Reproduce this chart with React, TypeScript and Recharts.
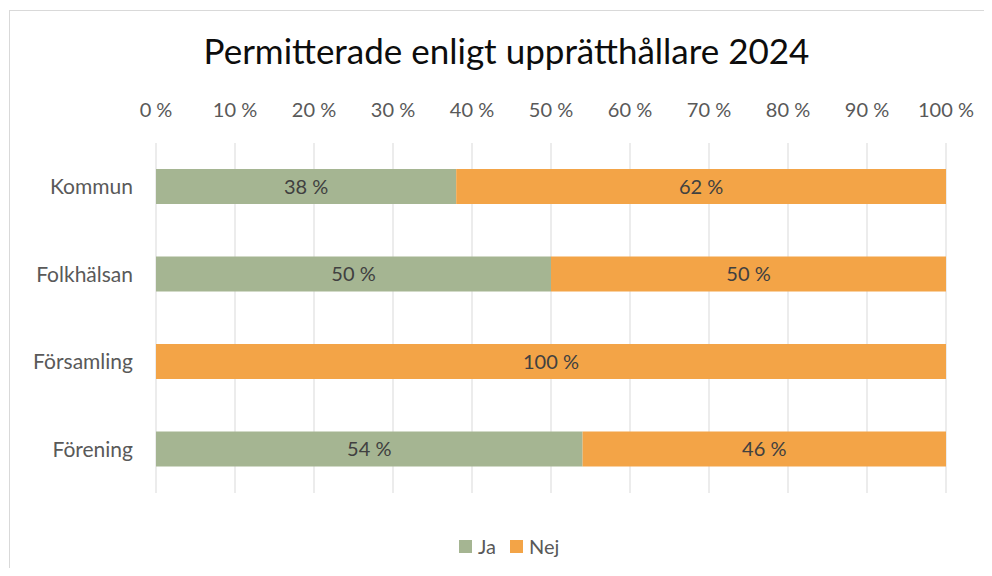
import { BarChart, Bar, XAxis, YAxis, CartesianGrid, Legend, LabelList } from 'recharts';

// Values (share of permitted staff, %)
const categories = ['Kommun', 'Folkhälsan', 'Församling', 'Förening'];
const jaValues = [38, 50, 0, 54];
const nejValues = [62, 50, 100, 46];
const xTicks = [0, 10, 20, 30, 40, 50, 60, 70, 80, 90, 100];

const GREEN = '#A5B592';
const ORANGE = '#F3A447';
const FONT = 'Lato, "Open Sans", sans-serif';

const data = categories.map((name, i) => ({ name, Ja: jaValues[i], Nej: nejValues[i] }));

const pct = (v: unknown) => (Number(v) === 0 ? '' : `${v} %`);

function LegendContent({ payload }: any) {
  return (
    <div style={{ display: 'flex', alignItems: 'center', fontFamily: FONT, fontSize: 20, color: '#595959' }}>
      {(payload || []).map((item: any) => (
        <div key={item.value} style={{ display: 'flex', alignItems: 'center', marginRight: 14 }}>
          <span style={{ width: 13, height: 13, background: item.color, display: 'inline-block', marginRight: 6 }} />
          <span>{item.value}</span>
        </div>
      ))}
    </div>
  );
}

export default function App() {
  return (
    <div style={{ position: 'relative', width: 984, height: 560, overflow: 'hidden', background: '#fff' }}>
      {/* chart frame, only left/top edges visible in the reference */}
      <div
        style={{
          position: 'absolute',
          left: 1,
          top: 2,
          right: 0,
          bottom: 0,
          borderLeft: '1px solid #d9d9d9',
          borderTop: '1px solid #d9d9d9',
        }}
      />
      <div
        style={{
          position: 'absolute',
          left: 0,
          top: 21,
          width: 997,
          textAlign: 'center',
          fontFamily: FONT,
          fontSize: 35,
          color: '#0d0d0d',
        }}
      >
        Permitterade enligt upprätthållare 2024
      </div>
      <div style={{ position: 'absolute', left: 0, top: 0 }}>
        <BarChart
          width={984}
          height={560}
          data={data}
          layout="vertical"
          barSize={35}
          margin={{ top: 95, right: 46, left: 0, bottom: 75 }}
        >
          <CartesianGrid horizontal={false} stroke="#d9d9d9" strokeWidth={1} />
          <XAxis
            type="number"
            orientation="top"
            domain={[0, 100]}
            ticks={xTicks}
            tickFormatter={(v) => `${v} %`}
            axisLine={false}
            tickLine={false}
            tickMargin={20}
            height={40}
            interval={0}
            tick={{ fontSize: 20, fill: '#595959', fontFamily: FONT }}
          />
          <YAxis
            type="category"
            dataKey="name"
            width={148}
            axisLine={false}
            tickLine={false}
            tickMargin={17}
            tick={{ fontSize: 21, fill: '#595959', fontFamily: FONT }}
          />
          <Legend
            verticalAlign="middle"
            align="center"
            layout="horizontal"
            content={<LegendContent />}
            wrapperStyle={{ left: 451, top: 526, width: 200, height: 24 }}
          />
          <Bar dataKey="Ja" stackId="s" fill={GREEN} isAnimationActive={false}>
            <LabelList dataKey="Ja" position="center" formatter={pct} fill="#404040" fontSize={20} fontFamily={FONT} />
          </Bar>
          <Bar dataKey="Nej" stackId="s" fill={ORANGE} isAnimationActive={false}>
            <LabelList dataKey="Nej" position="center" formatter={pct} fill="#404040" fontSize={20} fontFamily={FONT} />
          </Bar>
        </BarChart>
      </div>
    </div>
  );
}
